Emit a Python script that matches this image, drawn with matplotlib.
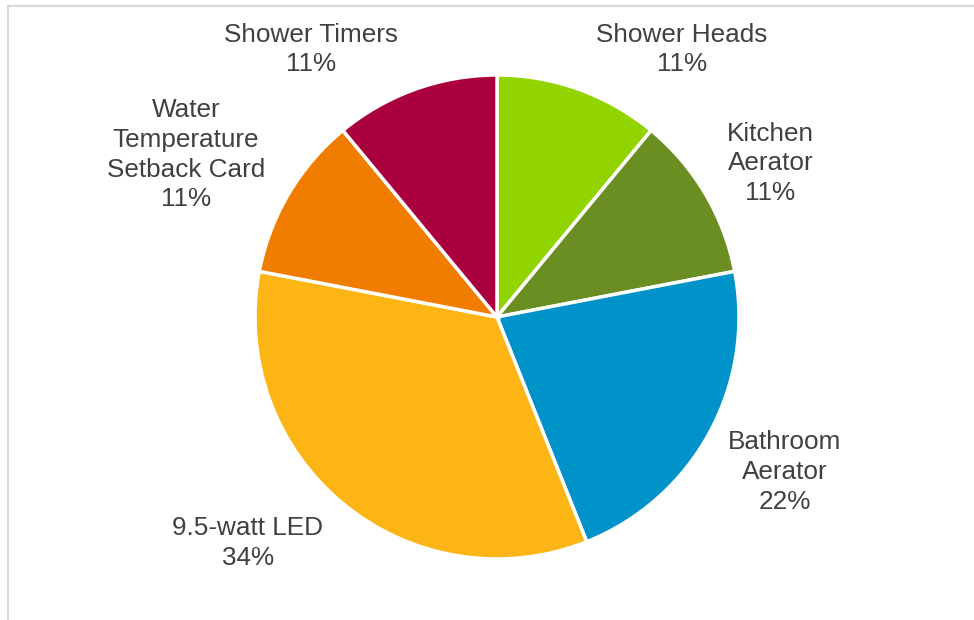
import matplotlib.pyplot as plt
import numpy as np
from matplotlib.patches import Rectangle

plt.rcParams['font.family'] = ['Liberation Sans', 'DejaVu Sans']

# Share of measures installed
labels = ['Shower Heads', 'Kitchen\nAerator', 'Bathroom\nAerator', '9.5-watt LED',
          'Water\nTemperature\nSetback Card', 'Shower Timers']
values = [10, 10, 20, 31, 10, 10]
colors = ['#92D400', '#6A8E22', '#0093C9', '#FDB515', '#F07D00', '#AA003E']
# where each label sits relative to the pie centre (radius units)
label_pos = [(0.765, 1.105), (1.13, 0.635), (1.19, -0.64), (-1.03, -0.935),
             (-1.285, 0.67), (-0.77, 1.105)]

W, H = 974, 620
fig = plt.figure(figsize=(W / 100, H / 100), dpi=100)
cx, cy, r = 497, 620 - 317, 242
ax = fig.add_axes([(cx - r) / W, (cy - r) / H, 2 * r / W, 2 * r / H])

# light grey chart frame (only top and left visible)
fig.patches.append(Rectangle((8 / W, -0.1), 1.2, (H - 6) / H + 0.1, transform=fig.transFigure,
                             fill=False, edgecolor='#D9D9D9', linewidth=1.5))

ax.pie(values, colors=colors, startangle=90, counterclock=False, radius=1,
       wedgeprops=dict(edgecolor='white', linewidth=2.5))
ax.set_xlim(-1, 1)
ax.set_ylim(-1, 1)
ax.set_aspect('equal')
ax.axis('off')

total = sum(values)
for lab, v, (x, y) in zip(labels, values, label_pos):
    ax.text(x, y, f'{lab}\n{v / total * 100:.0f}%', ha='center', va='center',
            fontsize=18.8, color='#404040', linespacing=1.3, clip_on=False)

fig.savefig('out.png', dpi=100)
